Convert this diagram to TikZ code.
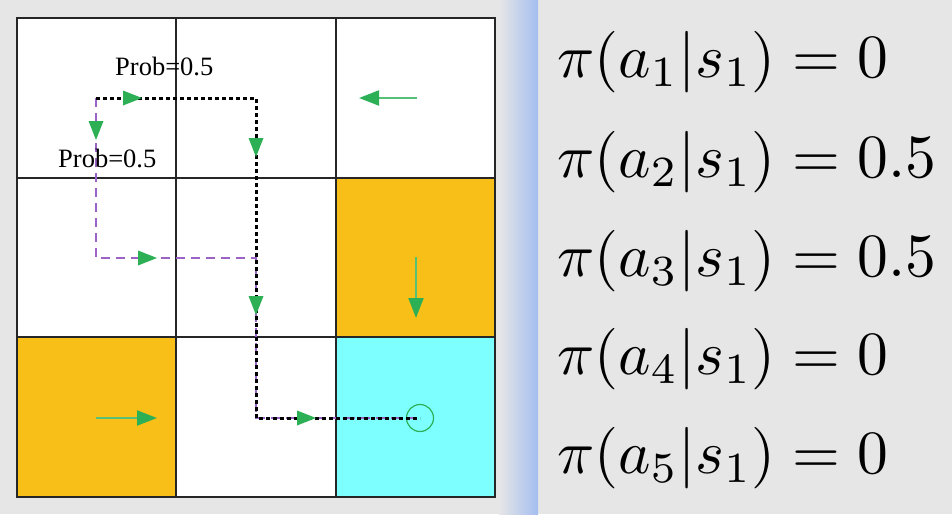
\RequirePackage{fix-cm}
\documentclass[tikz,border=0pt]{standalone}
\usepackage[no-math]{fontspec}
\usepackage{graphicx}
\newfontfamily\timesf{Liberation Serif}
\usetikzlibrary{arrows.meta}
\definecolor{bg}{HTML}{E6E6E6}
\definecolor{orng}{HTML}{F8BF19}
\definecolor{cyn}{HTML}{7DFFFF}
\definecolor{grn}{HTML}{2DB055}
\definecolor{prp}{HTML}{9B63C8}
\definecolor{blu}{HTML}{A4BEF0}
\newcommand{\bigeq}[1]{\scalebox{6.15}{$#1$}}
\begin{document}
\begin{tikzpicture}[x=1pt,y=-1pt,
  gridline/.style={draw=black!85, line width=1.5pt},
  garrow/.style={draw=grn!80!white, line width=2pt, -{Triangle[length=20pt,width=15pt,color=grn]}},
  ahead/.pic={\fill[grn] (0,0) -- (-19,-7.5) -- (-19,7.5) -- cycle;},
  blackpath/.style={draw=black, line width=3pt, dash pattern=on 4pt off 3pt},
  purplepath/.style={draw=prp, line width=1.8pt, dash pattern=on 9pt off 6pt},
  probtext/.style={anchor=base west, inner sep=0pt, font=\timesf\fontsize{26.5}{30}\selectfont},
  eqtext/.style={anchor=base west, inner sep=0pt}]
\useasboundingbox (0,0) rectangle (952,514);
\fill[bg] (0,0) rectangle (952,514);
\shade[left color=bg, right color=blu] (499,0) rectangle (538,514);
% cells
\fill[white] (17,18) rectangle (495,497);
\fill[orng] (336,178) rectangle (495,337);
\fill[orng] (17,337) rectangle (176,497);
\fill[cyn] (336,337) rectangle (495,497);
\draw[gridline] (17,18) rectangle (495,497);
\draw[gridline] (176,18) -- (176,497);
\draw[gridline] (336,18) -- (336,497);
\draw[gridline] (17,178) -- (495,178);
\draw[gridline] (17,337) -- (495,337);
% standalone policy arrows
\coordinate (r1a) at (417,98);  \coordinate (r1b) at (359,98);
\coordinate (r2a) at (416,257); \coordinate (r2b) at (416,318);
\coordinate (r3a) at (96,418);  \coordinate (r3b) at (157,418);
\draw[garrow] (r1a) -- (r1b);
\draw[garrow] (r2a) -- (r2b);
\draw[garrow] (r3a) -- (r3b);
% goal circle
\node[circle, draw=grn, line width=1.2pt, minimum size=27pt, inner sep=0pt] (goal) at (420,418) {};
% trajectories
\coordinate (s) at (96,98);
\coordinate (a) at (256,98);
\coordinate (l) at (96,258);
\coordinate (m) at (256,258);
\coordinate (b) at (256,418);
\coordinate (t) at (goal.center);
\draw[purplepath] (s) -- (l) -- (m) -- (b) -- (t);
\draw[blackpath] (s) -- (a) -- (b) -- (t);
% arrowheads on trajectories
\pic at (142,98) {ahead};
\pic[rotate=-90] at (96,140) {ahead};
\pic[rotate=-90] at (256,157) {ahead};
\pic at (157,258) {ahead};
\pic[rotate=-90] at (256,315) {ahead};
\pic at (316,418) {ahead};
% labels
\node[probtext] (p1) at (115,75) {Prob=0.5};
\node[probtext] (p2) at (58,167) {Prob=0.5};
% equations
\node[eqtext] (e1) at (557,77) {\bigeq{\pi(a_1|s_1) = 0}};
\node[eqtext] (e2) at (557,177) {\bigeq{\pi(a_2|s_1) = 0.5}};
\node[eqtext] (e3) at (557,276) {\bigeq{\pi(a_3|s_1) = 0.5}};
\node[eqtext] (e4) at (557,374) {\bigeq{\pi(a_4|s_1) = 0}};
\node[eqtext] (e5) at (557,473) {\bigeq{\pi(a_5|s_1) = 0}};
\end{tikzpicture}
\end{document}
